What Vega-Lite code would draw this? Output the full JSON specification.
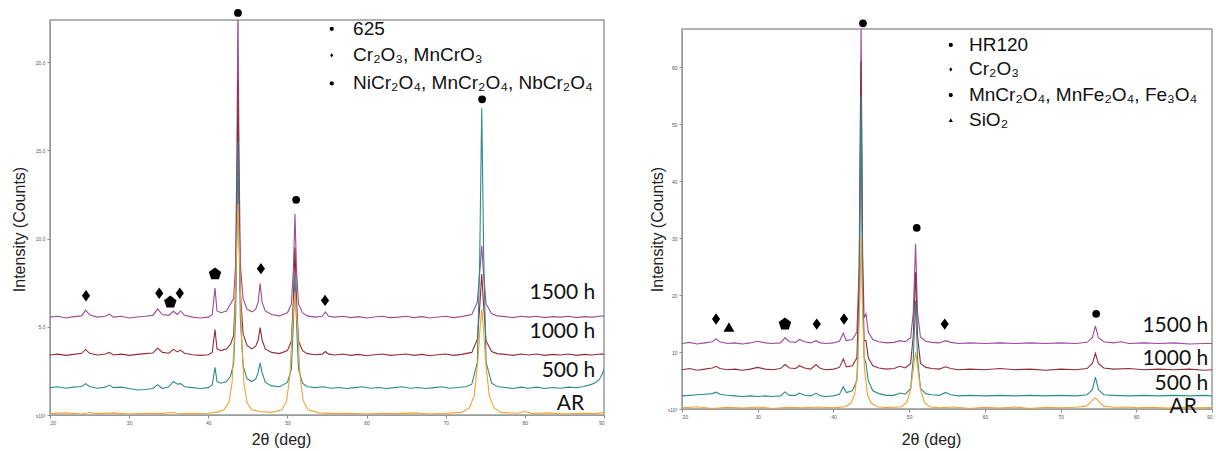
{
  "$schema": "https://vega.github.io/schema/vega-lite/v6.json",
  "padding": {"left": 10, "top": 8, "right": 0, "bottom": 0},
  "background": "white",
  "config": {
    "view": {"stroke": "#9a9a9a", "strokeWidth": 1.5},
    "axis": {"grid": false, "labelFontSize": 5, "labelColor": "#555", "tickColor": "#888", "tickSize": 3, "labelPadding": 2, "domainColor": "#9a9a9a", "titleFont": "Liberation Sans", "titleFontSize": 16, "titleFontWeight": "normal", "titleColor": "#222", "labelFont": "Liberation Sans"}
  },
  "datasets": {
    "lines": [
      {"p":"L","s":"1500 h","x":20,"y":5.55},{"p":"L","s":"1500 h","x":21,"y":5.6},{"p":"L","s":"1500 h","x":22,"y":5.5},{"p":"L","s":"1500 h","x":23,"y":5.58},{"p":"L","s":"1500 h","x":24,"y":5.62},{"p":"L","s":"1500 h","x":24.5,"y":5.95},{"p":"L","s":"1500 h","x":25,"y":5.68},{"p":"L","s":"1500 h","x":26,"y":5.55},{"p":"L","s":"1500 h","x":27,"y":5.6},{"p":"L","s":"1500 h","x":27.5,"y":5.72},{"p":"L","s":"1500 h","x":28,"y":5.55},{"p":"L","s":"1500 h","x":29,"y":5.6},{"p":"L","s":"1500 h","x":30,"y":5.5},{"p":"L","s":"1500 h","x":31,"y":5.56},{"p":"L","s":"1500 h","x":32,"y":5.6},{"p":"L","s":"1500 h","x":33,"y":5.65},{"p":"L","s":"1500 h","x":33.6,"y":6.02},{"p":"L","s":"1500 h","x":34.2,"y":5.7},{"p":"L","s":"1500 h","x":35,"y":5.65},{"p":"L","s":"1500 h","x":35.6,"y":5.88},{"p":"L","s":"1500 h","x":36.1,"y":5.7},{"p":"L","s":"1500 h","x":36.5,"y":5.9},{"p":"L","s":"1500 h","x":37,"y":5.65},{"p":"L","s":"1500 h","x":38,"y":5.55},{"p":"L","s":"1500 h","x":39,"y":5.5},{"p":"L","s":"1500 h","x":40,"y":5.55},{"p":"L","s":"1500 h","x":40.5,"y":5.7},{"p":"L","s":"1500 h","x":40.85,"y":7.2},{"p":"L","s":"1500 h","x":41.1,"y":5.9},{"p":"L","s":"1500 h","x":41.6,"y":5.8},{"p":"L","s":"1500 h","x":42.3,"y":5.9},{"p":"L","s":"1500 h","x":42.8,"y":6.3},{"p":"L","s":"1500 h","x":43.2,"y":6.6},{"p":"L","s":"1500 h","x":43.45,"y":8.5},{"p":"L","s":"1500 h","x":43.62,"y":15},{"p":"L","s":"1500 h","x":43.75,"y":23.5},{"p":"L","s":"1500 h","x":43.88,"y":15},{"p":"L","s":"1500 h","x":44.05,"y":8.5},{"p":"L","s":"1500 h","x":44.4,"y":6.6},{"p":"L","s":"1500 h","x":44.9,"y":6.0},{"p":"L","s":"1500 h","x":45.5,"y":5.85},{"p":"L","s":"1500 h","x":46,"y":6.0},{"p":"L","s":"1500 h","x":46.3,"y":6.4},{"p":"L","s":"1500 h","x":46.55,"y":7.45},{"p":"L","s":"1500 h","x":46.8,"y":6.4},{"p":"L","s":"1500 h","x":47.2,"y":5.9},{"p":"L","s":"1500 h","x":48,"y":5.7},{"p":"L","s":"1500 h","x":49,"y":5.62},{"p":"L","s":"1500 h","x":50,"y":5.8},{"p":"L","s":"1500 h","x":50.5,"y":6.3},{"p":"L","s":"1500 h","x":50.75,"y":8.2},{"p":"L","s":"1500 h","x":50.95,"y":11.4},{"p":"L","s":"1500 h","x":51.15,"y":8.2},{"p":"L","s":"1500 h","x":51.4,"y":6.3},{"p":"L","s":"1500 h","x":51.9,"y":5.8},{"p":"L","s":"1500 h","x":52.5,"y":5.62},{"p":"L","s":"1500 h","x":53.5,"y":5.55},{"p":"L","s":"1500 h","x":54.4,"y":5.6},{"p":"L","s":"1500 h","x":54.8,"y":5.85},{"p":"L","s":"1500 h","x":55.2,"y":5.6},{"p":"L","s":"1500 h","x":56,"y":5.55},{"p":"L","s":"1500 h","x":57,"y":5.6},{"p":"L","s":"1500 h","x":58,"y":5.52},{"p":"L","s":"1500 h","x":59,"y":5.58},{"p":"L","s":"1500 h","x":60,"y":5.5},{"p":"L","s":"1500 h","x":61,"y":5.56},{"p":"L","s":"1500 h","x":62,"y":5.6},{"p":"L","s":"1500 h","x":63,"y":5.52},{"p":"L","s":"1500 h","x":64,"y":5.55},{"p":"L","s":"1500 h","x":65,"y":5.6},{"p":"L","s":"1500 h","x":66,"y":5.52},{"p":"L","s":"1500 h","x":67,"y":5.58},{"p":"L","s":"1500 h","x":68,"y":5.5},{"p":"L","s":"1500 h","x":69,"y":5.56},{"p":"L","s":"1500 h","x":70,"y":5.6},{"p":"L","s":"1500 h","x":71,"y":5.52},{"p":"L","s":"1500 h","x":72,"y":5.58},{"p":"L","s":"1500 h","x":73.3,"y":5.7},{"p":"L","s":"1500 h","x":74,"y":6.4},{"p":"L","s":"1500 h","x":74.35,"y":8.4},{"p":"L","s":"1500 h","x":74.55,"y":9.6},{"p":"L","s":"1500 h","x":74.75,"y":8.2},{"p":"L","s":"1500 h","x":75.1,"y":6.3},{"p":"L","s":"1500 h","x":75.8,"y":5.75},{"p":"L","s":"1500 h","x":76.5,"y":5.62},{"p":"L","s":"1500 h","x":77.5,"y":5.58},{"p":"L","s":"1500 h","x":78.5,"y":5.52},{"p":"L","s":"1500 h","x":79.5,"y":5.6},{"p":"L","s":"1500 h","x":80.5,"y":5.55},{"p":"L","s":"1500 h","x":81.5,"y":5.6},{"p":"L","s":"1500 h","x":82.5,"y":5.52},{"p":"L","s":"1500 h","x":83.5,"y":5.58},{"p":"L","s":"1500 h","x":84.5,"y":5.55},{"p":"L","s":"1500 h","x":85.5,"y":5.6},{"p":"L","s":"1500 h","x":86.5,"y":5.52},{"p":"L","s":"1500 h","x":87.5,"y":5.58},{"p":"L","s":"1500 h","x":88.5,"y":5.55},{"p":"L","s":"1500 h","x":89.5,"y":5.6},{"p":"L","s":"1500 h","x":90,"y":5.62},

      {"p":"L","s":"1000 h","x":20,"y":3.4},{"p":"L","s":"1000 h","x":21,"y":3.45},{"p":"L","s":"1000 h","x":22,"y":3.38},{"p":"L","s":"1000 h","x":23,"y":3.44},{"p":"L","s":"1000 h","x":24,"y":3.5},{"p":"L","s":"1000 h","x":24.5,"y":3.72},{"p":"L","s":"1000 h","x":25,"y":3.5},{"p":"L","s":"1000 h","x":26,"y":3.4},{"p":"L","s":"1000 h","x":27,"y":3.46},{"p":"L","s":"1000 h","x":27.5,"y":3.55},{"p":"L","s":"1000 h","x":28,"y":3.4},{"p":"L","s":"1000 h","x":29,"y":3.45},{"p":"L","s":"1000 h","x":30,"y":3.38},{"p":"L","s":"1000 h","x":31,"y":3.44},{"p":"L","s":"1000 h","x":32,"y":3.48},{"p":"L","s":"1000 h","x":33,"y":3.52},{"p":"L","s":"1000 h","x":33.6,"y":3.8},{"p":"L","s":"1000 h","x":34.2,"y":3.55},{"p":"L","s":"1000 h","x":35,"y":3.5},{"p":"L","s":"1000 h","x":35.6,"y":3.72},{"p":"L","s":"1000 h","x":36.1,"y":3.58},{"p":"L","s":"1000 h","x":36.5,"y":3.68},{"p":"L","s":"1000 h","x":37,"y":3.5},{"p":"L","s":"1000 h","x":38,"y":3.42},{"p":"L","s":"1000 h","x":39,"y":3.38},{"p":"L","s":"1000 h","x":40,"y":3.42},{"p":"L","s":"1000 h","x":40.5,"y":3.55},{"p":"L","s":"1000 h","x":40.85,"y":4.85},{"p":"L","s":"1000 h","x":41.1,"y":3.75},{"p":"L","s":"1000 h","x":41.6,"y":3.65},{"p":"L","s":"1000 h","x":42.3,"y":3.75},{"p":"L","s":"1000 h","x":42.8,"y":4.0},{"p":"L","s":"1000 h","x":43.2,"y":4.5},{"p":"L","s":"1000 h","x":43.45,"y":7},{"p":"L","s":"1000 h","x":43.62,"y":12.5},{"p":"L","s":"1000 h","x":43.75,"y":19},{"p":"L","s":"1000 h","x":43.88,"y":12.5},{"p":"L","s":"1000 h","x":44.05,"y":7},{"p":"L","s":"1000 h","x":44.4,"y":4.6},{"p":"L","s":"1000 h","x":44.9,"y":3.95},{"p":"L","s":"1000 h","x":45.5,"y":3.75},{"p":"L","s":"1000 h","x":46,"y":3.9},{"p":"L","s":"1000 h","x":46.3,"y":4.25},{"p":"L","s":"1000 h","x":46.55,"y":4.95},{"p":"L","s":"1000 h","x":46.8,"y":4.25},{"p":"L","s":"1000 h","x":47.2,"y":3.75},{"p":"L","s":"1000 h","x":48,"y":3.55},{"p":"L","s":"1000 h","x":49,"y":3.48},{"p":"L","s":"1000 h","x":50,"y":3.65},{"p":"L","s":"1000 h","x":50.5,"y":4.2},{"p":"L","s":"1000 h","x":50.75,"y":6.5},{"p":"L","s":"1000 h","x":50.95,"y":9.5},{"p":"L","s":"1000 h","x":51.15,"y":6.5},{"p":"L","s":"1000 h","x":51.4,"y":4.2},{"p":"L","s":"1000 h","x":51.9,"y":3.65},{"p":"L","s":"1000 h","x":52.5,"y":3.48},{"p":"L","s":"1000 h","x":53.5,"y":3.42},{"p":"L","s":"1000 h","x":54.4,"y":3.45},{"p":"L","s":"1000 h","x":54.8,"y":3.6},{"p":"L","s":"1000 h","x":55.2,"y":3.45},{"p":"L","s":"1000 h","x":56,"y":3.4},{"p":"L","s":"1000 h","x":57,"y":3.46},{"p":"L","s":"1000 h","x":58,"y":3.38},{"p":"L","s":"1000 h","x":59,"y":3.44},{"p":"L","s":"1000 h","x":60,"y":3.36},{"p":"L","s":"1000 h","x":61,"y":3.42},{"p":"L","s":"1000 h","x":62,"y":3.46},{"p":"L","s":"1000 h","x":63,"y":3.38},{"p":"L","s":"1000 h","x":64,"y":3.42},{"p":"L","s":"1000 h","x":65,"y":3.46},{"p":"L","s":"1000 h","x":66,"y":3.38},{"p":"L","s":"1000 h","x":67,"y":3.44},{"p":"L","s":"1000 h","x":68,"y":3.36},{"p":"L","s":"1000 h","x":69,"y":3.42},{"p":"L","s":"1000 h","x":70,"y":3.46},{"p":"L","s":"1000 h","x":71,"y":3.38},{"p":"L","s":"1000 h","x":72,"y":3.44},{"p":"L","s":"1000 h","x":73.3,"y":3.55},{"p":"L","s":"1000 h","x":74,"y":4.3},{"p":"L","s":"1000 h","x":74.35,"y":6.5},{"p":"L","s":"1000 h","x":74.55,"y":8},{"p":"L","s":"1000 h","x":74.75,"y":6.5},{"p":"L","s":"1000 h","x":75.1,"y":4.2},{"p":"L","s":"1000 h","x":75.8,"y":3.6},{"p":"L","s":"1000 h","x":76.5,"y":3.48},{"p":"L","s":"1000 h","x":77.5,"y":3.44},{"p":"L","s":"1000 h","x":78.5,"y":3.38},{"p":"L","s":"1000 h","x":79.5,"y":3.46},{"p":"L","s":"1000 h","x":80.5,"y":3.4},{"p":"L","s":"1000 h","x":81.5,"y":3.46},{"p":"L","s":"1000 h","x":82.5,"y":3.38},{"p":"L","s":"1000 h","x":83.5,"y":3.44},{"p":"L","s":"1000 h","x":84.5,"y":3.4},{"p":"L","s":"1000 h","x":85.5,"y":3.46},{"p":"L","s":"1000 h","x":86.5,"y":3.38},{"p":"L","s":"1000 h","x":87.5,"y":3.44},{"p":"L","s":"1000 h","x":88.5,"y":3.4},{"p":"L","s":"1000 h","x":89.5,"y":3.46},{"p":"L","s":"1000 h","x":90,"y":3.45},

      {"p":"L","s":"500 h","x":20,"y":1.55},{"p":"L","s":"500 h","x":21,"y":1.6},{"p":"L","s":"500 h","x":22,"y":1.52},{"p":"L","s":"500 h","x":23,"y":1.58},{"p":"L","s":"500 h","x":24,"y":1.62},{"p":"L","s":"500 h","x":24.5,"y":1.78},{"p":"L","s":"500 h","x":25,"y":1.62},{"p":"L","s":"500 h","x":26,"y":1.52},{"p":"L","s":"500 h","x":27,"y":1.58},{"p":"L","s":"500 h","x":27.5,"y":1.7},{"p":"L","s":"500 h","x":28,"y":1.55},{"p":"L","s":"500 h","x":29,"y":1.58},{"p":"L","s":"500 h","x":30,"y":1.5},{"p":"L","s":"500 h","x":31,"y":1.42},{"p":"L","s":"500 h","x":32,"y":1.45},{"p":"L","s":"500 h","x":33,"y":1.5},{"p":"L","s":"500 h","x":33.6,"y":1.72},{"p":"L","s":"500 h","x":34.2,"y":1.5},{"p":"L","s":"500 h","x":35,"y":1.6},{"p":"L","s":"500 h","x":35.6,"y":1.9},{"p":"L","s":"500 h","x":36.1,"y":1.75},{"p":"L","s":"500 h","x":36.5,"y":1.78},{"p":"L","s":"500 h","x":37,"y":1.6},{"p":"L","s":"500 h","x":38,"y":1.55},{"p":"L","s":"500 h","x":39,"y":1.5},{"p":"L","s":"500 h","x":40,"y":1.55},{"p":"L","s":"500 h","x":40.5,"y":1.7},{"p":"L","s":"500 h","x":40.85,"y":2.7},{"p":"L","s":"500 h","x":41.1,"y":1.9},{"p":"L","s":"500 h","x":41.6,"y":1.8},{"p":"L","s":"500 h","x":42.3,"y":1.9},{"p":"L","s":"500 h","x":42.8,"y":2.2},{"p":"L","s":"500 h","x":43.2,"y":2.9},{"p":"L","s":"500 h","x":43.45,"y":5.5},{"p":"L","s":"500 h","x":43.62,"y":10.5},{"p":"L","s":"500 h","x":43.75,"y":15.5},{"p":"L","s":"500 h","x":43.88,"y":10.5},{"p":"L","s":"500 h","x":44.05,"y":5.5},{"p":"L","s":"500 h","x":44.4,"y":2.8},{"p":"L","s":"500 h","x":44.9,"y":2.05},{"p":"L","s":"500 h","x":45.5,"y":1.9},{"p":"L","s":"500 h","x":46,"y":2.05},{"p":"L","s":"500 h","x":46.3,"y":2.4},{"p":"L","s":"500 h","x":46.55,"y":2.95},{"p":"L","s":"500 h","x":46.8,"y":2.4},{"p":"L","s":"500 h","x":47.2,"y":1.85},{"p":"L","s":"500 h","x":48,"y":1.65},{"p":"L","s":"500 h","x":49,"y":1.6},{"p":"L","s":"500 h","x":50,"y":1.85},{"p":"L","s":"500 h","x":50.5,"y":2.6},{"p":"L","s":"500 h","x":50.75,"y":5.2},{"p":"L","s":"500 h","x":50.95,"y":8.0},{"p":"L","s":"500 h","x":51.15,"y":5.2},{"p":"L","s":"500 h","x":51.4,"y":2.6},{"p":"L","s":"500 h","x":51.9,"y":1.8},{"p":"L","s":"500 h","x":52.5,"y":1.6},{"p":"L","s":"500 h","x":53.5,"y":1.55},{"p":"L","s":"500 h","x":54.5,"y":1.6},{"p":"L","s":"500 h","x":55.5,"y":1.52},{"p":"L","s":"500 h","x":56.5,"y":1.56},{"p":"L","s":"500 h","x":57.5,"y":1.5},{"p":"L","s":"500 h","x":58.5,"y":1.55},{"p":"L","s":"500 h","x":59.5,"y":1.6},{"p":"L","s":"500 h","x":60.5,"y":1.52},{"p":"L","s":"500 h","x":61.5,"y":1.56},{"p":"L","s":"500 h","x":62.5,"y":1.5},{"p":"L","s":"500 h","x":63.5,"y":1.55},{"p":"L","s":"500 h","x":64.5,"y":1.6},{"p":"L","s":"500 h","x":65.5,"y":1.52},{"p":"L","s":"500 h","x":66.5,"y":1.56},{"p":"L","s":"500 h","x":67.5,"y":1.5},{"p":"L","s":"500 h","x":68.5,"y":1.55},{"p":"L","s":"500 h","x":69.5,"y":1.6},{"p":"L","s":"500 h","x":70.5,"y":1.52},{"p":"L","s":"500 h","x":71.5,"y":1.56},{"p":"L","s":"500 h","x":72.5,"y":1.6},{"p":"L","s":"500 h","x":73.3,"y":1.75},{"p":"L","s":"500 h","x":74,"y":3.0},{"p":"L","s":"500 h","x":74.3,"y":9},{"p":"L","s":"500 h","x":74.55,"y":17.4},{"p":"L","s":"500 h","x":74.8,"y":9},{"p":"L","s":"500 h","x":75.1,"y":3.0},{"p":"L","s":"500 h","x":75.8,"y":1.8},{"p":"L","s":"500 h","x":76.5,"y":1.62},{"p":"L","s":"500 h","x":77.5,"y":1.56},{"p":"L","s":"500 h","x":78.5,"y":1.5},{"p":"L","s":"500 h","x":79.5,"y":1.58},{"p":"L","s":"500 h","x":80.5,"y":1.52},{"p":"L","s":"500 h","x":81.5,"y":1.58},{"p":"L","s":"500 h","x":82.5,"y":1.5},{"p":"L","s":"500 h","x":83.5,"y":1.56},{"p":"L","s":"500 h","x":84.5,"y":1.52},{"p":"L","s":"500 h","x":85.5,"y":1.58},{"p":"L","s":"500 h","x":86.5,"y":1.55},{"p":"L","s":"500 h","x":87.3,"y":1.6},{"p":"L","s":"500 h","x":88,"y":1.68},{"p":"L","s":"500 h","x":88.8,"y":1.8},{"p":"L","s":"500 h","x":89.4,"y":2.0},{"p":"L","s":"500 h","x":89.8,"y":2.35},{"p":"L","s":"500 h","x":90,"y":2.6},

      {"p":"L","s":"AR","x":20,"y":0.08},{"p":"L","s":"AR","x":22,"y":0.12},{"p":"L","s":"AR","x":24,"y":0.06},{"p":"L","s":"AR","x":25,"y":0.14},{"p":"L","s":"AR","x":26,"y":0.08},{"p":"L","s":"AR","x":28,"y":0.12},{"p":"L","s":"AR","x":30,"y":0.06},{"p":"L","s":"AR","x":32,"y":0.1},{"p":"L","s":"AR","x":34,"y":0.08},{"p":"L","s":"AR","x":35.5,"y":0.14},{"p":"L","s":"AR","x":36,"y":0.1},{"p":"L","s":"AR","x":38,"y":0.08},{"p":"L","s":"AR","x":40,"y":0.1},{"p":"L","s":"AR","x":41,"y":0.15},{"p":"L","s":"AR","x":42,"y":0.3},{"p":"L","s":"AR","x":42.6,"y":0.7},{"p":"L","s":"AR","x":43.0,"y":1.8},{"p":"L","s":"AR","x":43.3,"y":4.5},{"p":"L","s":"AR","x":43.55,"y":9},{"p":"L","s":"AR","x":43.75,"y":12},{"p":"L","s":"AR","x":43.95,"y":9},{"p":"L","s":"AR","x":44.2,"y":4.5},{"p":"L","s":"AR","x":44.5,"y":1.8},{"p":"L","s":"AR","x":44.9,"y":0.7},{"p":"L","s":"AR","x":45.5,"y":0.3},{"p":"L","s":"AR","x":46.5,"y":0.2},{"p":"L","s":"AR","x":48,"y":0.15},{"p":"L","s":"AR","x":49.3,"y":0.3},{"p":"L","s":"AR","x":49.9,"y":0.8},{"p":"L","s":"AR","x":50.3,"y":2.2},{"p":"L","s":"AR","x":50.6,"y":4.8},{"p":"L","s":"AR","x":50.95,"y":7},{"p":"L","s":"AR","x":51.3,"y":4.8},{"p":"L","s":"AR","x":51.6,"y":2.2},{"p":"L","s":"AR","x":52,"y":0.8},{"p":"L","s":"AR","x":52.6,"y":0.3},{"p":"L","s":"AR","x":54,"y":0.12},{"p":"L","s":"AR","x":56,"y":0.08},{"p":"L","s":"AR","x":58,"y":0.1},{"p":"L","s":"AR","x":60,"y":0.06},{"p":"L","s":"AR","x":62,"y":0.1},{"p":"L","s":"AR","x":64,"y":0.08},{"p":"L","s":"AR","x":66,"y":0.12},{"p":"L","s":"AR","x":68,"y":0.06},{"p":"L","s":"AR","x":70,"y":0.1},{"p":"L","s":"AR","x":72,"y":0.15},{"p":"L","s":"AR","x":73,"y":0.4},{"p":"L","s":"AR","x":73.6,"y":1.1},{"p":"L","s":"AR","x":74.05,"y":3},{"p":"L","s":"AR","x":74.35,"y":5},{"p":"L","s":"AR","x":74.55,"y":6},{"p":"L","s":"AR","x":74.75,"y":5},{"p":"L","s":"AR","x":75.05,"y":3},{"p":"L","s":"AR","x":75.5,"y":1.1},{"p":"L","s":"AR","x":76.1,"y":0.4},{"p":"L","s":"AR","x":77,"y":0.15},{"p":"L","s":"AR","x":79,"y":0.1},{"p":"L","s":"AR","x":80,"y":0.2},{"p":"L","s":"AR","x":81,"y":0.08},{"p":"L","s":"AR","x":83,"y":0.12},{"p":"L","s":"AR","x":85,"y":0.06},{"p":"L","s":"AR","x":87,"y":0.1},{"p":"L","s":"AR","x":89,"y":0.08},{"p":"L","s":"AR","x":90,"y":0.15},

      {"p":"R","s":"1500 h","x":20,"y":11.5},{"p":"R","s":"1500 h","x":21,"y":11.7},{"p":"R","s":"1500 h","x":22,"y":11.4},{"p":"R","s":"1500 h","x":23,"y":11.6},{"p":"R","s":"1500 h","x":24,"y":11.8},{"p":"R","s":"1500 h","x":24.5,"y":12.3},{"p":"R","s":"1500 h","x":25,"y":11.8},{"p":"R","s":"1500 h","x":26,"y":11.5},{"p":"R","s":"1500 h","x":27,"y":11.6},{"p":"R","s":"1500 h","x":28,"y":11.4},{"p":"R","s":"1500 h","x":29,"y":11.6},{"p":"R","s":"1500 h","x":30,"y":11.9},{"p":"R","s":"1500 h","x":31,"y":11.6},{"p":"R","s":"1500 h","x":32,"y":11.5},{"p":"R","s":"1500 h","x":33,"y":11.6},{"p":"R","s":"1500 h","x":33.6,"y":12.5},{"p":"R","s":"1500 h","x":34.2,"y":11.8},{"p":"R","s":"1500 h","x":35,"y":11.7},{"p":"R","s":"1500 h","x":35.5,"y":12.2},{"p":"R","s":"1500 h","x":36.2,"y":11.8},{"p":"R","s":"1500 h","x":37,"y":11.6},{"p":"R","s":"1500 h","x":37.7,"y":12.0},{"p":"R","s":"1500 h","x":38.3,"y":11.6},{"p":"R","s":"1500 h","x":39,"y":11.5},{"p":"R","s":"1500 h","x":40,"y":11.6},{"p":"R","s":"1500 h","x":40.8,"y":11.9},{"p":"R","s":"1500 h","x":41.3,"y":13.3},{"p":"R","s":"1500 h","x":41.7,"y":12.0},{"p":"R","s":"1500 h","x":42.5,"y":12.2},{"p":"R","s":"1500 h","x":43.1,"y":13.5},{"p":"R","s":"1500 h","x":43.4,"y":25},{"p":"R","s":"1500 h","x":43.65,"y":67.5},{"p":"R","s":"1500 h","x":43.85,"y":28},{"p":"R","s":"1500 h","x":44.05,"y":16},{"p":"R","s":"1500 h","x":44.3,"y":16.7},{"p":"R","s":"1500 h","x":44.6,"y":13.5},{"p":"R","s":"1500 h","x":45.2,"y":12.2},{"p":"R","s":"1500 h","x":46,"y":11.8},{"p":"R","s":"1500 h","x":47,"y":11.6},{"p":"R","s":"1500 h","x":48,"y":11.7},{"p":"R","s":"1500 h","x":48.8,"y":12.0},{"p":"R","s":"1500 h","x":49.5,"y":11.8},{"p":"R","s":"1500 h","x":50.2,"y":12.5},{"p":"R","s":"1500 h","x":50.55,"y":17},{"p":"R","s":"1500 h","x":50.85,"y":29},{"p":"R","s":"1500 h","x":51.1,"y":17},{"p":"R","s":"1500 h","x":51.5,"y":12.6},{"p":"R","s":"1500 h","x":52.2,"y":11.9},{"p":"R","s":"1500 h","x":53,"y":11.7},{"p":"R","s":"1500 h","x":54,"y":11.6},{"p":"R","s":"1500 h","x":54.8,"y":12.0},{"p":"R","s":"1500 h","x":55.5,"y":11.7},{"p":"R","s":"1500 h","x":56.5,"y":11.5},{"p":"R","s":"1500 h","x":58,"y":11.6},{"p":"R","s":"1500 h","x":60,"y":11.5},{"p":"R","s":"1500 h","x":62,"y":11.6},{"p":"R","s":"1500 h","x":64,"y":11.5},{"p":"R","s":"1500 h","x":66,"y":11.6},{"p":"R","s":"1500 h","x":68,"y":11.5},{"p":"R","s":"1500 h","x":70,"y":11.6},{"p":"R","s":"1500 h","x":72,"y":11.5},{"p":"R","s":"1500 h","x":73.5,"y":11.7},{"p":"R","s":"1500 h","x":74.2,"y":12.5},{"p":"R","s":"1500 h","x":74.6,"y":14.6},{"p":"R","s":"1500 h","x":75,"y":12.5},{"p":"R","s":"1500 h","x":75.7,"y":11.8},{"p":"R","s":"1500 h","x":77,"y":11.6},{"p":"R","s":"1500 h","x":78,"y":11.8},{"p":"R","s":"1500 h","x":79,"y":11.5},{"p":"R","s":"1500 h","x":81,"y":11.6},{"p":"R","s":"1500 h","x":83,"y":11.5},{"p":"R","s":"1500 h","x":85,"y":11.6},{"p":"R","s":"1500 h","x":87,"y":11.4},{"p":"R","s":"1500 h","x":89,"y":11.5},{"p":"R","s":"1500 h","x":90,"y":11.5},

      {"p":"R","s":"1000 h","x":20,"y":6.9},{"p":"R","s":"1000 h","x":21,"y":7.1},{"p":"R","s":"1000 h","x":22,"y":6.8},{"p":"R","s":"1000 h","x":23,"y":7.0},{"p":"R","s":"1000 h","x":24,"y":7.2},{"p":"R","s":"1000 h","x":24.5,"y":7.5},{"p":"R","s":"1000 h","x":25,"y":7.1},{"p":"R","s":"1000 h","x":26,"y":6.9},{"p":"R","s":"1000 h","x":27,"y":7.0},{"p":"R","s":"1000 h","x":28,"y":6.8},{"p":"R","s":"1000 h","x":29,"y":7.0},{"p":"R","s":"1000 h","x":30,"y":7.3},{"p":"R","s":"1000 h","x":31,"y":7.0},{"p":"R","s":"1000 h","x":32,"y":6.9},{"p":"R","s":"1000 h","x":33,"y":7.1},{"p":"R","s":"1000 h","x":33.6,"y":7.8},{"p":"R","s":"1000 h","x":34.2,"y":7.2},{"p":"R","s":"1000 h","x":35,"y":7.1},{"p":"R","s":"1000 h","x":35.5,"y":7.6},{"p":"R","s":"1000 h","x":36.2,"y":7.2},{"p":"R","s":"1000 h","x":37,"y":7.0},{"p":"R","s":"1000 h","x":37.7,"y":7.8},{"p":"R","s":"1000 h","x":38.3,"y":7.1},{"p":"R","s":"1000 h","x":39,"y":6.9},{"p":"R","s":"1000 h","x":40,"y":7.0},{"p":"R","s":"1000 h","x":40.8,"y":7.3},{"p":"R","s":"1000 h","x":41.3,"y":8.8},{"p":"R","s":"1000 h","x":41.7,"y":7.4},{"p":"R","s":"1000 h","x":42.5,"y":7.6},{"p":"R","s":"1000 h","x":43.1,"y":9},{"p":"R","s":"1000 h","x":43.4,"y":22},{"p":"R","s":"1000 h","x":43.65,"y":61},{"p":"R","s":"1000 h","x":43.85,"y":24},{"p":"R","s":"1000 h","x":44.05,"y":12},{"p":"R","s":"1000 h","x":44.3,"y":12},{"p":"R","s":"1000 h","x":44.6,"y":9},{"p":"R","s":"1000 h","x":45.2,"y":7.6},{"p":"R","s":"1000 h","x":46,"y":7.2},{"p":"R","s":"1000 h","x":47,"y":7.0},{"p":"R","s":"1000 h","x":48,"y":7.1},{"p":"R","s":"1000 h","x":48.8,"y":7.5},{"p":"R","s":"1000 h","x":49.5,"y":7.2},{"p":"R","s":"1000 h","x":50.2,"y":8.0},{"p":"R","s":"1000 h","x":50.55,"y":13},{"p":"R","s":"1000 h","x":50.85,"y":24},{"p":"R","s":"1000 h","x":51.1,"y":13},{"p":"R","s":"1000 h","x":51.5,"y":8.0},{"p":"R","s":"1000 h","x":52.2,"y":7.3},{"p":"R","s":"1000 h","x":53,"y":7.1},{"p":"R","s":"1000 h","x":54,"y":7.0},{"p":"R","s":"1000 h","x":54.8,"y":7.4},{"p":"R","s":"1000 h","x":55.5,"y":7.1},{"p":"R","s":"1000 h","x":56.5,"y":6.9},{"p":"R","s":"1000 h","x":58,"y":7.0},{"p":"R","s":"1000 h","x":60,"y":6.9},{"p":"R","s":"1000 h","x":62,"y":7.1},{"p":"R","s":"1000 h","x":64,"y":6.9},{"p":"R","s":"1000 h","x":66,"y":7.0},{"p":"R","s":"1000 h","x":68,"y":6.8},{"p":"R","s":"1000 h","x":70,"y":7.0},{"p":"R","s":"1000 h","x":72,"y":6.9},{"p":"R","s":"1000 h","x":73.5,"y":7.1},{"p":"R","s":"1000 h","x":74.2,"y":8.0},{"p":"R","s":"1000 h","x":74.6,"y":9.8},{"p":"R","s":"1000 h","x":75,"y":8.0},{"p":"R","s":"1000 h","x":75.7,"y":7.2},{"p":"R","s":"1000 h","x":77,"y":7.0},{"p":"R","s":"1000 h","x":79,"y":7.1},{"p":"R","s":"1000 h","x":81,"y":6.9},{"p":"R","s":"1000 h","x":83,"y":7.0},{"p":"R","s":"1000 h","x":85,"y":6.9},{"p":"R","s":"1000 h","x":87,"y":7.0},{"p":"R","s":"1000 h","x":89,"y":6.8},{"p":"R","s":"1000 h","x":90,"y":6.9},

      {"p":"R","s":"500 h","x":20,"y":2.3},{"p":"R","s":"500 h","x":21,"y":2.4},{"p":"R","s":"500 h","x":22,"y":2.5},{"p":"R","s":"500 h","x":23,"y":2.6},{"p":"R","s":"500 h","x":24,"y":2.7},{"p":"R","s":"500 h","x":24.5,"y":2.95},{"p":"R","s":"500 h","x":25,"y":2.6},{"p":"R","s":"500 h","x":26,"y":2.4},{"p":"R","s":"500 h","x":27,"y":2.3},{"p":"R","s":"500 h","x":28,"y":2.2},{"p":"R","s":"500 h","x":29,"y":2.3},{"p":"R","s":"500 h","x":30,"y":2.2},{"p":"R","s":"500 h","x":31,"y":2.3},{"p":"R","s":"500 h","x":32,"y":2.2},{"p":"R","s":"500 h","x":33,"y":2.3},{"p":"R","s":"500 h","x":33.6,"y":3.0},{"p":"R","s":"500 h","x":34.2,"y":2.4},{"p":"R","s":"500 h","x":35,"y":2.4},{"p":"R","s":"500 h","x":35.5,"y":2.8},{"p":"R","s":"500 h","x":36.2,"y":2.4},{"p":"R","s":"500 h","x":37,"y":2.3},{"p":"R","s":"500 h","x":37.7,"y":2.8},{"p":"R","s":"500 h","x":38.3,"y":2.3},{"p":"R","s":"500 h","x":39,"y":2.2},{"p":"R","s":"500 h","x":40,"y":2.3},{"p":"R","s":"500 h","x":40.8,"y":2.6},{"p":"R","s":"500 h","x":41.3,"y":3.9},{"p":"R","s":"500 h","x":41.7,"y":2.9},{"p":"R","s":"500 h","x":42.5,"y":3.2},{"p":"R","s":"500 h","x":43.1,"y":5},{"p":"R","s":"500 h","x":43.4,"y":18},{"p":"R","s":"500 h","x":43.65,"y":55},{"p":"R","s":"500 h","x":43.85,"y":20},{"p":"R","s":"500 h","x":44.05,"y":9},{"p":"R","s":"500 h","x":44.3,"y":8},{"p":"R","s":"500 h","x":44.6,"y":5},{"p":"R","s":"500 h","x":45.2,"y":3.2},{"p":"R","s":"500 h","x":46,"y":2.7},{"p":"R","s":"500 h","x":47,"y":2.4},{"p":"R","s":"500 h","x":48,"y":2.4},{"p":"R","s":"500 h","x":48.8,"y":2.8},{"p":"R","s":"500 h","x":49.5,"y":2.6},{"p":"R","s":"500 h","x":50.2,"y":3.6},{"p":"R","s":"500 h","x":50.55,"y":9},{"p":"R","s":"500 h","x":50.85,"y":19},{"p":"R","s":"500 h","x":51.1,"y":9},{"p":"R","s":"500 h","x":51.5,"y":3.6},{"p":"R","s":"500 h","x":52.2,"y":2.7},{"p":"R","s":"500 h","x":53,"y":2.5},{"p":"R","s":"500 h","x":54,"y":2.4},{"p":"R","s":"500 h","x":54.8,"y":2.9},{"p":"R","s":"500 h","x":55.5,"y":2.5},{"p":"R","s":"500 h","x":56.5,"y":2.3},{"p":"R","s":"500 h","x":58,"y":2.4},{"p":"R","s":"500 h","x":60,"y":2.3},{"p":"R","s":"500 h","x":62,"y":2.4},{"p":"R","s":"500 h","x":64,"y":2.3},{"p":"R","s":"500 h","x":66,"y":2.4},{"p":"R","s":"500 h","x":68,"y":2.3},{"p":"R","s":"500 h","x":70,"y":2.4},{"p":"R","s":"500 h","x":72,"y":2.3},{"p":"R","s":"500 h","x":73.5,"y":2.5},{"p":"R","s":"500 h","x":74.2,"y":3.4},{"p":"R","s":"500 h","x":74.6,"y":5.6},{"p":"R","s":"500 h","x":75,"y":3.4},{"p":"R","s":"500 h","x":75.7,"y":2.5},{"p":"R","s":"500 h","x":77,"y":2.4},{"p":"R","s":"500 h","x":79,"y":2.3},{"p":"R","s":"500 h","x":81,"y":2.4},{"p":"R","s":"500 h","x":83,"y":2.3},{"p":"R","s":"500 h","x":85,"y":2.4},{"p":"R","s":"500 h","x":87,"y":2.3},{"p":"R","s":"500 h","x":89,"y":2.4},{"p":"R","s":"500 h","x":90,"y":2.3},

      {"p":"R","s":"AR","x":20,"y":0.2},{"p":"R","s":"AR","x":22,"y":0.4},{"p":"R","s":"AR","x":24,"y":0.1},{"p":"R","s":"AR","x":26,"y":0.3},{"p":"R","s":"AR","x":28,"y":0.15},{"p":"R","s":"AR","x":30,"y":0.35},{"p":"R","s":"AR","x":32,"y":0.1},{"p":"R","s":"AR","x":34,"y":0.3},{"p":"R","s":"AR","x":36,"y":0.2},{"p":"R","s":"AR","x":38,"y":0.35},{"p":"R","s":"AR","x":40,"y":0.2},{"p":"R","s":"AR","x":41.5,"y":0.4},{"p":"R","s":"AR","x":42.3,"y":1},{"p":"R","s":"AR","x":42.8,"y":2.5},{"p":"R","s":"AR","x":43.2,"y":7},{"p":"R","s":"AR","x":43.5,"y":20},{"p":"R","s":"AR","x":43.65,"y":30},{"p":"R","s":"AR","x":43.8,"y":20},{"p":"R","s":"AR","x":44.1,"y":7},{"p":"R","s":"AR","x":44.5,"y":2.5},{"p":"R","s":"AR","x":45,"y":1},{"p":"R","s":"AR","x":45.8,"y":0.4},{"p":"R","s":"AR","x":47,"y":0.25},{"p":"R","s":"AR","x":49,"y":0.4},{"p":"R","s":"AR","x":49.7,"y":1.2},{"p":"R","s":"AR","x":50.2,"y":3.5},{"p":"R","s":"AR","x":50.55,"y":7},{"p":"R","s":"AR","x":50.85,"y":10},{"p":"R","s":"AR","x":51.15,"y":7},{"p":"R","s":"AR","x":51.5,"y":3.5},{"p":"R","s":"AR","x":52,"y":1.2},{"p":"R","s":"AR","x":52.7,"y":0.4},{"p":"R","s":"AR","x":54,"y":0.2},{"p":"R","s":"AR","x":56,"y":0.35},{"p":"R","s":"AR","x":58,"y":0.1},{"p":"R","s":"AR","x":60,"y":0.3},{"p":"R","s":"AR","x":62,"y":0.15},{"p":"R","s":"AR","x":64,"y":0.35},{"p":"R","s":"AR","x":66,"y":0.1},{"p":"R","s":"AR","x":68,"y":0.3},{"p":"R","s":"AR","x":70,"y":0.2},{"p":"R","s":"AR","x":72,"y":0.3},{"p":"R","s":"AR","x":73.4,"y":0.5},{"p":"R","s":"AR","x":73.9,"y":1.1},{"p":"R","s":"AR","x":74.3,"y":1.7},{"p":"R","s":"AR","x":74.55,"y":1.95},{"p":"R","s":"AR","x":74.8,"y":1.7},{"p":"R","s":"AR","x":75.2,"y":1.1},{"p":"R","s":"AR","x":75.7,"y":0.5},{"p":"R","s":"AR","x":77,"y":0.3},{"p":"R","s":"AR","x":79,"y":0.35},{"p":"R","s":"AR","x":80,"y":0.2},{"p":"R","s":"AR","x":82,"y":0.3},{"p":"R","s":"AR","x":84,"y":0.15},{"p":"R","s":"AR","x":86,"y":0.3},{"p":"R","s":"AR","x":88,"y":0.2},{"p":"R","s":"AR","x":90,"y":0.25}
    ],
    "markers": [
      {"p":"L","k":"b","x":24.55,"y":6.76},{"p":"L","k":"b","x":33.8,"y":6.9},{"p":"L","k":"c","x":35.2,"y":6.4},{"p":"L","k":"b","x":36.4,"y":6.9},{"p":"L","k":"c","x":40.85,"y":8.0},{"p":"L","k":"a","x":43.75,"y":22.8},{"p":"L","k":"b","x":46.65,"y":8.3},{"p":"L","k":"a","x":51.1,"y":12.2},{"p":"L","k":"b","x":54.75,"y":6.5},{"p":"L","k":"a","x":74.6,"y":17.9},
      {"p":"R","k":"b","x":24.5,"y":15.8},{"p":"R","k":"d","x":26.2,"y":14.4},{"p":"R","k":"c","x":33.6,"y":14.9},{"p":"R","k":"b","x":37.8,"y":14.9},{"p":"R","k":"b","x":41.4,"y":15.8},{"p":"R","k":"a","x":43.9,"y":67.7},{"p":"R","k":"a","x":51.0,"y":31.8},{"p":"R","k":"b","x":54.7,"y":14.9},{"p":"R","k":"a","x":74.7,"y":16.7}
    ],
    "legend": [
      {"p":"L","k":"a","x":55.6,"tx":58.3,"y":21.9,"t":"625"},
      {"p":"L","k":"b","x":55.6,"tx":58.3,"y":20.4,"t":"Cr₂O₃, MnCrO₃"},
      {"p":"L","k":"a","x":55.6,"tx":58.3,"y":18.8,"t":"NiCr₂O₄, MnCr₂O₄, NbCr₂O₄"},
      {"p":"R","k":"a","x":55.5,"tx":57.9,"y":63.9,"t":"HR120"},
      {"p":"R","k":"b","x":55.5,"tx":57.9,"y":59.6,"t":"Cr₂O₃"},
      {"p":"R","k":"a","x":55.5,"tx":57.9,"y":55.1,"t":"MnCr₂O₄, MnFe₂O₄, Fe₃O₄"},
      {"p":"R","k":"d","x":55.5,"tx":57.9,"y":50.7,"t":"SiO₂"}
    ],
    "labels": [
      {"p":"L","x":88.9,"y":6.9,"t":"1500 h"},{"p":"L","x":88.9,"y":4.7,"t":"1000 h"},{"p":"L","x":88.9,"y":2.5,"t":"500 h"},{"p":"L","x":87.5,"y":0.65,"t":"AR"},
      {"p":"R","x":89.5,"y":14.6,"t":"1500 h"},{"p":"R","x":89.5,"y":8.8,"t":"1000 h"},{"p":"R","x":89.5,"y":4.4,"t":"500 h"},{"p":"R","x":88.0,"y":0.3,"t":"AR"}
    ]
  },
  "hconcat": [
    {
      "width": 554, "height": 395,
      "layer": [
        {
          "data": {"name": "lines"},
          "transform": [{"filter": "datum.p == 'L'"}],
          "mark": {"type": "line", "strokeWidth": 1.1, "clip": true, "interpolate": "linear"},
          "encoding": {
            "x": {"field": "x", "type": "quantitative", "scale": {"domain": [20, 90], "nice": false}, "axis": {"title": "2θ (deg)", "values": [20,30,40,50,60,70,80,90], "titlePadding": 6, "titleX": 231}},
            "y": {"field": "y", "type": "quantitative", "scale": {"domain": [0, 22.4], "nice": false}, "axis": {"title": "Intensity (Counts)", "values": [0,5,10,15,20], "labelExpr": "datum.value == 0 ? 'x10³' : format(datum.value, '.1f')", "titlePadding": 8, "titleY": 209}},
            "color": {"field": "s", "type": "nominal", "legend": null, "scale": {"domain": ["AR","500 h","1000 h","1500 h"], "range": ["#EFA236","#2E8C88","#8E2F38","#9C4A9E"]}},
            "order": {"field": "x", "type": "quantitative"}
          }
        },
        {
          "data": {"name": "markers"},
          "transform": [{"filter": "datum.p == 'L'"}],
          "mark": {"type": "point", "filled": true, "color": "black", "opacity": 1, "clip": false},
          "encoding": {
            "x": {"field": "x", "type": "quantitative"},
            "y": {"field": "y", "type": "quantitative"},
            "shape": {"field": "k", "type": "nominal", "legend": null, "scale": {"domain": ["a","b","c","d"], "range": ["circle", "M0,-1L0.72,0L0,1L-0.72,0Z", "M0,-1L0.951,-0.309L0.588,0.809L-0.588,0.809L-0.951,-0.309Z", "triangle-up"]}},
            "size": {"field": "k", "type": "ordinal", "legend": null, "scale": {"type": "ordinal", "domain": ["a","b","c","d"], "range": [60, 130, 170, 120]}}
          }
        },
        {
          "data": {"name": "legend"},
          "transform": [{"filter": "datum.p == 'L'"}],
          "mark": {"type": "point", "filled": true, "color": "black", "opacity": 1, "size": 18},
          "encoding": {
            "x": {"field": "x", "type": "quantitative"},
            "y": {"field": "y", "type": "quantitative"},
            "shape": {"field": "k", "type": "nominal", "legend": null}
          }
        },
        {
          "data": {"name": "legend"},
          "transform": [{"filter": "datum.p == 'L'"}],
          "mark": {"type": "text", "align": "left", "baseline": "middle", "font": "Liberation Sans", "fontSize": 19, "color": "#111"},
          "encoding": {
            "x": {"field": "tx", "type": "quantitative"},
            "y": {"field": "y", "type": "quantitative"},
            "text": {"field": "t"}
          }
        },
        {
          "data": {"name": "labels"},
          "transform": [{"filter": "datum.p == 'L'"}],
          "mark": {"type": "text", "align": "right", "baseline": "middle", "font": "Lato", "fontSize": 21, "color": "#111"},
          "encoding": {
            "x": {"field": "x", "type": "quantitative"},
            "y": {"field": "y", "type": "quantitative"},
            "text": {"field": "t"}
          }
        }
      ]
    },
    {
      "spacing": -6,
      "vconcat": [
        {
          "width": 530, "height": 1,
          "view": {"stroke": null},
          "data": {"values": [{"v": 0}]},
          "mark": {"type": "point", "opacity": 0},
          "encoding": {}
        },
        {
          "width": 530, "height": 380,
          "layer": [
            {
              "data": {"name": "lines"},
              "transform": [{"filter": "datum.p == 'R'"}],
              "mark": {"type": "line", "strokeWidth": 1.1, "clip": true, "interpolate": "linear"},
              "encoding": {
                "x": {"field": "x", "type": "quantitative", "scale": {"domain": [20, 90], "nice": false}, "axis": {"title": "2θ (deg)", "values": [20,30,40,50,60,70,80,90], "titlePadding": 12, "titleX": 249}},
                "y": {"field": "y", "type": "quantitative", "scale": {"domain": [0, 66.7], "nice": false}, "axis": {"title": "Intensity (Counts)", "values": [0,10,20,30,40,50,60], "labelExpr": "datum.value == 0 ? 'x10³' : format(datum.value, 'd')", "titlePadding": 2, "titleY": 200}},
                "color": {"field": "s", "type": "nominal", "legend": null, "scale": {"domain": ["AR","500 h","1000 h","1500 h"], "range": ["#EFA236","#2E8C88","#8E2F38","#9C4A9E"]}},
                "order": {"field": "x", "type": "quantitative"}
              }
            },
            {
              "data": {"name": "markers"},
              "transform": [{"filter": "datum.p == 'R'"}],
              "mark": {"type": "point", "filled": true, "color": "black", "opacity": 1, "clip": false},
              "encoding": {
                "x": {"field": "x", "type": "quantitative"},
                "y": {"field": "y", "type": "quantitative"},
                "shape": {"field": "k", "type": "nominal", "legend": null, "scale": {"domain": ["a","b","c","d"], "range": ["circle", "M0,-1L0.72,0L0,1L-0.72,0Z", "M0,-1L0.951,-0.309L0.588,0.809L-0.588,0.809L-0.951,-0.309Z", "triangle-up"]}},
                "size": {"field": "k", "type": "ordinal", "legend": null, "scale": {"type": "ordinal", "domain": ["a","b","c","d"], "range": [60, 130, 170, 120]}}
              }
            },
            {
              "data": {"name": "legend"},
              "transform": [{"filter": "datum.p == 'R'"}],
              "mark": {"type": "point", "filled": true, "color": "black", "opacity": 1, "size": 18},
              "encoding": {
                "x": {"field": "x", "type": "quantitative"},
                "y": {"field": "y", "type": "quantitative"},
                "shape": {"field": "k", "type": "nominal", "legend": null}
              }
            },
            {
              "data": {"name": "legend"},
              "transform": [{"filter": "datum.p == 'R'"}],
              "mark": {"type": "text", "align": "left", "baseline": "middle", "font": "Liberation Sans", "fontSize": 19, "color": "#111"},
              "encoding": {
                "x": {"field": "tx", "type": "quantitative"},
                "y": {"field": "y", "type": "quantitative"},
                "text": {"field": "t"}
              }
            },
            {
              "data": {"name": "labels"},
              "transform": [{"filter": "datum.p == 'R'"}],
              "mark": {"type": "text", "align": "right", "baseline": "middle", "font": "Lato", "fontSize": 21, "color": "#111"},
              "encoding": {
                "x": {"field": "x", "type": "quantitative"},
                "y": {"field": "y", "type": "quantitative"},
                "text": {"field": "t"}
              }
            }
          ]
        }
      ]
    }
  ],
  "spacing": 42
}
